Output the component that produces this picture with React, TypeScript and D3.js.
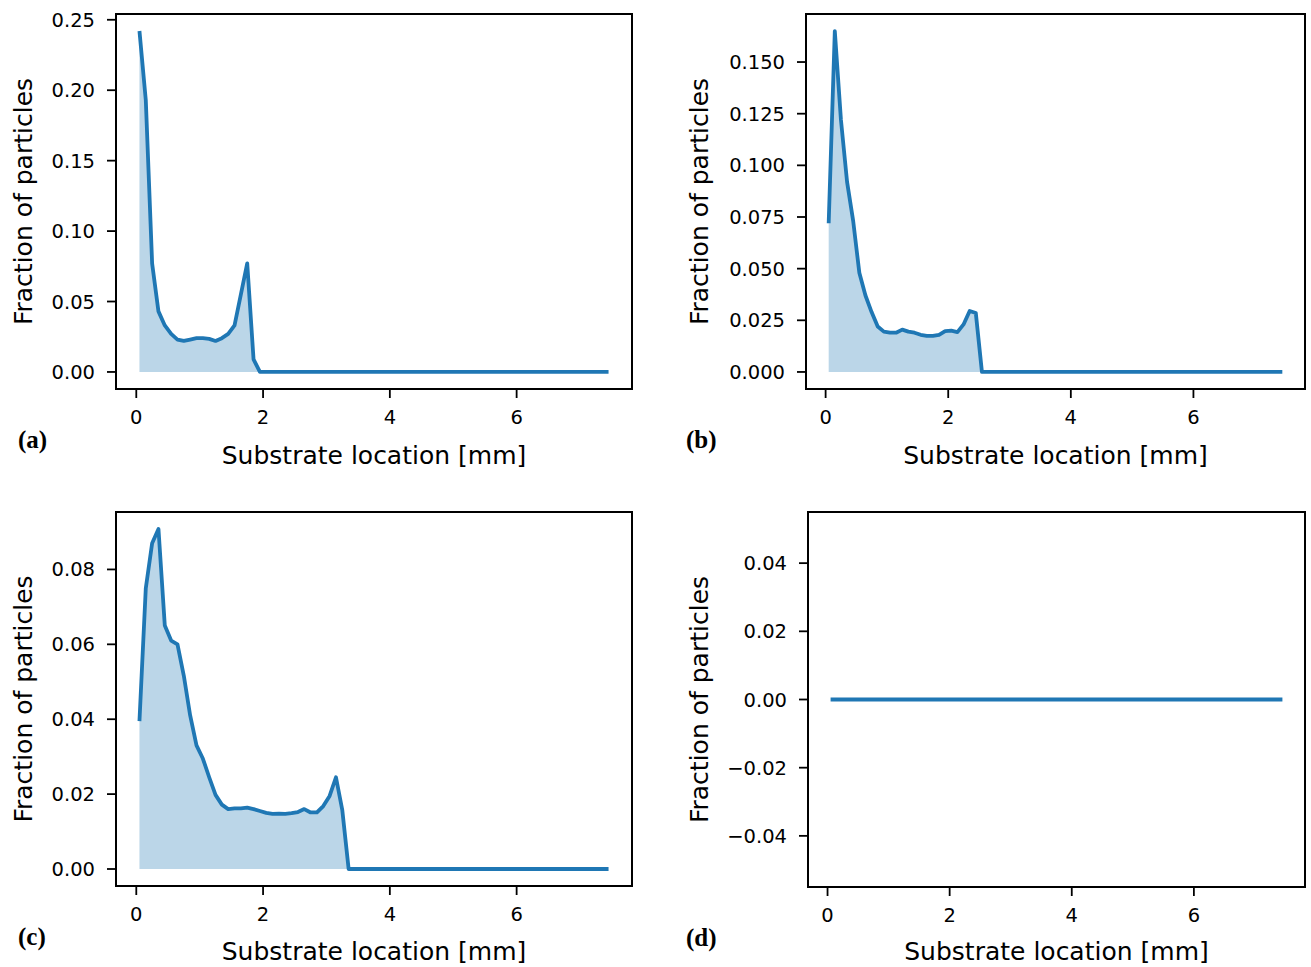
import React from "react";
import * as d3 from "d3";

// bin centres along the substrate [mm]
const substrateLocations: number[] = d3.range(75).map((i) => +(0.05 + 0.1 * i).toFixed(2));

// Fraction of particles (trailing bins are zero)
const fractionA: number[] = [
  0.242, 0.193, 0.077, 0.043, 0.033, 0.027, 0.023, 0.022, 0.023, 0.024,
  0.024, 0.0235, 0.022, 0.024, 0.027, 0.033, 0.055, 0.077, 0.009, 0.0,
].concat(new Array(55).fill(0));

const fractionB: number[] = [
  0.072, 0.165, 0.122, 0.092, 0.073, 0.048, 0.037, 0.029, 0.022, 0.0195,
  0.019, 0.019, 0.0205, 0.0195, 0.019, 0.018, 0.0175, 0.0175, 0.018, 0.0198,
  0.02, 0.0193, 0.023, 0.0295, 0.0285, 0.0,
].concat(new Array(49).fill(0));

const fractionC: number[] = [
  0.0395, 0.075, 0.087, 0.0908, 0.065, 0.061, 0.06, 0.0516, 0.041, 0.033,
  0.0295, 0.0245, 0.0198, 0.0172, 0.016, 0.0162, 0.0162, 0.0164, 0.016, 0.0155,
  0.015, 0.0147, 0.0148, 0.0147, 0.0149, 0.0152, 0.016, 0.0151, 0.0151, 0.0168,
  0.0195, 0.0245, 0.0157, 0.0,
].concat(new Array(41).fill(0));

const fractionD: number[] = new Array(75).fill(0);

const xTicks: number[] = [0, 2, 4, 6];
const yTicksA: number[] = [0, 0.05, 0.1, 0.15, 0.2, 0.25];
const yTicksB: number[] = [0, 0.025, 0.05, 0.075, 0.1, 0.125, 0.15];
const yTicksC: number[] = [0, 0.02, 0.04, 0.06, 0.08];
const yTicksD: number[] = [-0.04, -0.02, 0, 0.02, 0.04];

const panelLabels = ["(a)", "(b)", "(c)", "(d)"];
const xLabel = "Substrate location [mm]";
const yLabel = "Fraction of particles";

const BLUE = "#1f77b4";
const FONT = "'DejaVu Sans', sans-serif";

type PanelProps = {
  left: number; right: number; top: number; bottom: number;
  values: number[];
  yDomain: [number, number];
  yTicks: number[];
  yFormat: string;
  tag: string;
  tagX: number;
  yLabelX: number;
  xLabelY: number;
  fill: boolean;
};

function fmt(v: number, f: string) {
  const s = d3.format(f)(v);
  return s.replace("-", "\u2212");
}

function Panel(p: PanelProps) {
  const x = d3.scaleLinear().domain([-0.32, 7.82]).range([p.left, p.right]);
  const y = d3.scaleLinear().domain(p.yDomain).range([p.bottom, p.top]);
  const pts: [number, number][] = substrateLocations.map((xv, i) => [xv, p.values[i]]);
  const line = d3.line<[number, number]>().x((d) => x(d[0])).y((d) => y(d[1]));
  const area = d3.area<[number, number]>().x((d) => x(d[0])).y0(() => y(0)).y1((d) => y(d[1]));
  const tick = 9;
  const midX = (p.left + p.right) / 2;
  const midY = (p.top + p.bottom) / 2;
  return (
    <g>
      {p.fill && <path d={area(pts) || ""} fill={BLUE} fillOpacity={0.3} stroke="none" />}
      <path d={line(pts) || ""} fill="none" stroke={BLUE} strokeWidth={3.8} strokeLinejoin="round" />
      <rect x={p.left} y={p.top} width={p.right - p.left} height={p.bottom - p.top}
        fill="none" stroke="#000" strokeWidth={2} />
      {xTicks.map((t) => (
        <g key={"x" + t}>
          <line x1={x(t)} x2={x(t)} y1={p.bottom} y2={p.bottom + tick} stroke="#000" strokeWidth={1.8} />
          <text x={x(t)} y={p.bottom + 35} textAnchor="middle" fontFamily={FONT} fontSize={19.5} fill="#000">{t}</text>
        </g>
      ))}
      {p.yTicks.map((t) => (
        <g key={"y" + t}>
          <line x1={p.left - tick} x2={p.left} y1={y(t)} y2={y(t)} stroke="#000" strokeWidth={1.8} />
          <text x={p.left - 21} y={y(t)} dy="0.36em" textAnchor="end" fontFamily={FONT} fontSize={19.5} fill="#000">{fmt(t, p.yFormat)}</text>
        </g>
      ))}
      <text x={midX} y={p.xLabelY} textAnchor="middle" fontFamily={FONT} fontSize={25} fill="#000">{xLabel}</text>
      <text transform={`translate(${p.yLabelX},${midY}) rotate(-90)`} textAnchor="middle" fontFamily={FONT} fontSize={25} fill="#000">{yLabel}</text>
      <text x={p.tagX} y={p.bottom + 59} fontFamily="'Liberation Serif', 'Times New Roman', serif" fontWeight="bold" fontSize={25} fill="#000">{p.tag}</text>
    </g>
  );
}

export default function App() {
  return (
    <svg width={1311} height={967} style={{ position: "absolute", left: 0, top: 0, background: "#fff" }}>
      <rect x={0} y={0} width={1311} height={967} fill="#fff" />
      <Panel left={116} right={632} top={14} bottom={389} values={fractionA}
        yDomain={[-0.0121, 0.2541]} yTicks={yTicksA} yFormat=".2f" tag={panelLabels[0]} tagX={18} yLabelX={32} xLabelY={464} fill />
      <Panel left={806} right={1305} top={14} bottom={389} values={fractionB}
        yDomain={[-0.00825, 0.17325]} yTicks={yTicksB} yFormat=".3f" tag={panelLabels[1]} tagX={686} yLabelX={708} xLabelY={464} fill />
      <Panel left={116} right={632} top={512} bottom={886} values={fractionC}
        yDomain={[-0.00454, 0.09534]} yTicks={yTicksC} yFormat=".2f" tag={panelLabels[2]} tagX={18} yLabelX={32} xLabelY={960} fill />
      <Panel left={808} right={1305} top={512} bottom={887} values={fractionD}
        yDomain={[-0.055, 0.055]} yTicks={yTicksD} yFormat=".2f" tag={panelLabels[3]} tagX={686} yLabelX={708} xLabelY={960} fill={false} />
    </svg>
  );
}
